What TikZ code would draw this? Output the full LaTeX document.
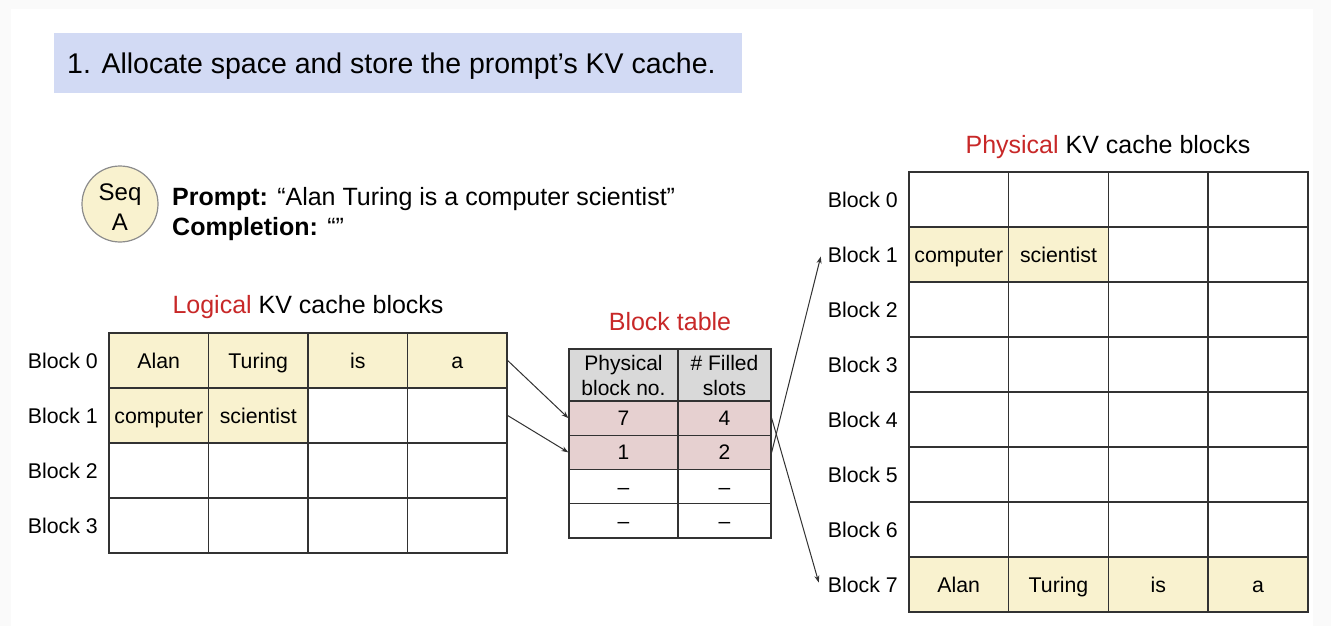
\documentclass[tikz,border=0pt]{standalone}
\usepackage{fontspec}
\setmainfont{Liberation Sans}
\usetikzlibrary{arrows.meta,calc}
\definecolor{titlebg}{RGB}{210,218,244}
\definecolor{cellY}{RGB}{249,242,207}
\definecolor{cellP}{RGB}{230,208,208}
\definecolor{cellG}{RGB}{217,217,217}
\definecolor{redtxt}{RGB}{200,40,40}
\definecolor{linecol}{RGB}{50,50,50}
\definecolor{circline}{RGB}{140,140,140}
\definecolor{edgebg}{RGB}{250,250,250}
\newcommand{\myfs}[2]{\fontsize{#1}{#2}\selectfont}
\begin{document}
\begin{tikzpicture}[x=1pt,y=-1pt,
  cell/.style={draw=linecol, line width=1.3pt, minimum width=99.5pt, minimum height=55pt, inner sep=0pt, font=\myfs{21.3}{25}, text height=15.3pt, text depth=0pt},
  pcell/.style={cell, minimum width=99.75pt},
  lbl/.style={anchor=east, inner sep=0pt, font=\myfs{21.3}{25}, text height=15.3pt, text depth=0pt},
  ttl/.style={inner sep=0pt, font=\myfs{25}{30}, text height=17.9pt, text depth=0pt},
  bt/.style={draw=linecol, line width=1.3pt, inner sep=0pt, font=\myfs{21}{25}},
  btv/.style={bt, minimum height=34.25pt, text height=15pt, text depth=0pt},
  arr/.style={draw=linecol, line width=1pt, -{Stealth[length=7pt,width=5pt]}},
]
\fill[edgebg] (0,0) rectangle (1331,626);
\fill[white] (11,9) rectangle (1313,626);
\useasboundingbox (0,0) rectangle (1331,626);

% title
\node[fill=titlebg, anchor=north west, minimum width=688pt, minimum height=60pt, inner sep=0pt] (title) at (54,33) {};
\node[anchor=west, inner sep=0pt, font=\myfs{28.5}{34}, text height=20.4pt, text depth=0pt] (titletext) at ($(title.west)+(13,0)$) {1. Allocate space and store the prompt’s KV cache.};

% sequence
\node[circle, draw=circline, line width=1.2pt, fill=cellY, minimum size=76pt, inner sep=0pt] (seq) at (120,204) {};
\node[inner sep=0pt, align=center, font=\myfs{24}{30}] (seqtext) at (120,207) {Seq\\A};
\node[anchor=base west, inner sep=0pt, font=\myfs{25}{30}] (prompt) at (172,205) {\textbf{Prompt:} “Alan Turing is a computer scientist”};
\node[anchor=base west, inner sep=0pt, font=\myfs{25}{30}] (compl) at (172,235) {\textbf{Completion:} “”};

% logical blocks
\node[ttl] (ltitle) at (308,305) {\textcolor{redtxt}{Logical} KV cache blocks};
\foreach \r/\c/\t/\f in {0/0/Alan/cellY,0/1/Turing/cellY,0/2/is/cellY,0/3/a/cellY,
                         1/0/computer/cellY,1/1/scientist/cellY,1/2//white,1/3//white}
  \node[cell, fill=\f] (L\r\c) at ({158.75+99.5*\c},{360.5+55*\r}) {\t};
\foreach \r in {2,3}
  \foreach \c in {0,...,3}
    \node[cell, fill=white] (L\r\c) at ({158.75+99.5*\c},{360.5+55*\r}) {};
\foreach \r in {0,...,3}
  \node[lbl] (LL\r) at (98,{360.5+55*\r}) {Block \r};

% block table
\node[ttl, text=redtxt] (btitle) at (670,322) {Block table};
\node[bt, fill=cellG, minimum width=109pt, minimum height=52pt, align=center] (TH0) at (623.5,375) {Physical\\block no.};
\node[bt, fill=cellG, minimum width=93pt, minimum height=52pt, align=center] (TH1) at (724.5,375) {\# Filled\\slots};
\foreach \r/\a/\b/\f in {1/7/4/cellP,2/1/2/cellP,3/–/–/white,4/–/–/white} {
  \node[btv, fill=\f, minimum width=109pt] (Ta\r) at (623.5,{401+17.125+34.25*(\r-1)}) {\a};
  \node[btv, fill=\f, minimum width=93pt] (Tb\r) at (724.5,{401+17.125+34.25*(\r-1)}) {\b};
}

% physical blocks
\node[ttl] (ptitle) at (1108,145) {\textcolor{redtxt}{Physical} KV cache blocks};
\foreach \r in {0,2,3,4,5,6}
  \foreach \c in {0,...,3}
    \node[pcell, fill=white] (P\r\c) at ({958.75+99.75*\c},{199.5+55*\r}) {};
\foreach \r/\c/\t/\f in {1/0/computer/cellY,1/1/scientist/cellY,1/2//white,1/3//white,
                         7/0/Alan/cellY,7/1/Turing/cellY,7/2/is/cellY,7/3/a/cellY}
  \node[pcell, fill=\f] (P\r\c) at ({958.75+99.75*\c},{199.5+55*\r}) {\t};
\foreach \r in {0,...,7}
  \node[lbl] (PL\r) at (898,{199.5+55*\r}) {Block \r};

% connectors
\draw[arr] (L03.east) -- (Ta1.west);
\draw[arr] (L13.east) -- (Ta2.west);
\draw[arr] (Tb1.east) -- ($(PL7.west)+(-9,-2)$);
\draw[arr] (Tb2.east) -- ($(PL1.west)+(-7,2)$);
\end{tikzpicture}
\end{document}
